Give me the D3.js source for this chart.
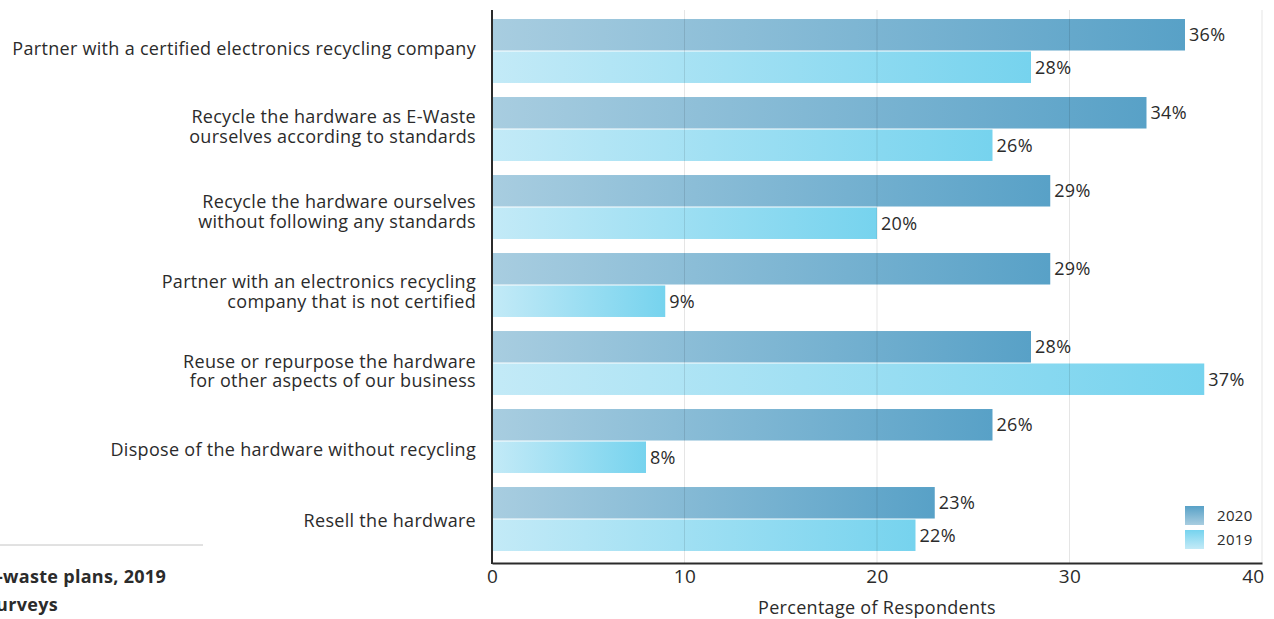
<!DOCTYPE html>
<html>
<head>
<meta charset="utf-8">
<script src="https://cdn.jsdelivr.net/npm/d3@7"></script>
<style>
  html, body { margin: 0; padding: 0; background: #fff; overflow: hidden; }
  svg { display: block; font-family: "Open Sans", Lato, sans-serif; letter-spacing: 0.3px; }
</style>
</head>
<body>
<svg id="chart" width="1274" height="619"></svg>
<script>
// Survey answers: what organisations plan to do with retired hardware
const categories = [
  ["Partner with a certified electronics recycling company"],
  ["Recycle the hardware as E-Waste", "ourselves according to standards"],
  ["Recycle the hardware ourselves", "without following any standards"],
  ["Partner with an electronics recycling", "company that is not certified"],
  ["Reuse or repurpose the hardware", "for other aspects of our business"],
  ["Dispose of the hardware without recycling"],
  ["Resell the hardware"]
];
const seriesNames = ["2020", "2019"];
const values2020 = [36, 34, 29, 29, 28, 26, 23];
const values2019 = [28, 26, 20, 9, 37, 8, 22];
const xTicks = [0, 10, 20, 30, 40];
const xTitle = "Percentage of Respondents";
const noteLines = ["E-waste plans, 2019", "surveys"];

const svg = d3.select("#chart");
const plotLeft = 492, plotRight = 1262, plotTop = 12, plotBottom = 558, axisY = 563;
const ink = "#2b2b2b";
const fs = 18;
// vertical nudge of each category label block relative to its bar pair
const labelNudge = [0, -0.5, 6.5, 8.5, 10, 10.5, 3.5];

const x = d3.scaleLinear().domain([0, 40]).range([plotLeft, plotRight]);
const y = d3.scaleBand()
  .domain(d3.range(categories.length))
  .range([plotTop, plotBottom])
  .paddingInner(0.18)
  .paddingOuter(0.09);
const ySub = d3.scaleBand().domain(seriesNames).range([0, y.bandwidth()]).paddingInner(0.03);

const colors = {
  "2020": { light: "#a8cde0", dark: "#58a1c7" },
  "2019": { light: "#c3eaf7", dark: "#76d3ee" }
};

// Gradients: horizontal for bars, vertical for legend swatches
const defs = svg.append("defs");
seriesNames.forEach(s => {
  const g = defs.append("linearGradient").attr("id", "bar" + s)
    .attr("x1", 0).attr("x2", 1).attr("y1", 0).attr("y2", 0);
  g.append("stop").attr("offset", "0%").attr("stop-color", colors[s].light);
  g.append("stop").attr("offset", "100%").attr("stop-color", colors[s].dark);
  const v = defs.append("linearGradient").attr("id", "leg" + s)
    .attr("x1", 0).attr("x2", 0).attr("y1", 0).attr("y2", 1);
  v.append("stop").attr("offset", "0%").attr("stop-color", colors[s].dark);
  v.append("stop").attr("offset", "100%").attr("stop-color", colors[s].light);
});

const rows = categories.map((c, i) => ({
  i, label: c,
  vals: [{ s: "2020", v: values2020[i] }, { s: "2019", v: values2019[i] }]
}));

// Bars
const grp = svg.append("g").selectAll("g").data(rows).join("g")
  .attr("transform", d => `translate(0,${y(d.i)})`);
grp.selectAll("rect").data(d => d.vals).join("rect")
  .attr("x", x(0))
  .attr("y", d => ySub(d.s))
  .attr("width", d => x(d.v) - x(0))
  .attr("height", ySub.bandwidth())
  .attr("fill", d => `url(#bar${d.s})`);
grp.selectAll("text.val").data(d => d.vals).join("text")
  .attr("class", "val")
  .attr("x", d => x(d.v) + 4)
  .attr("y", d => ySub(d.s) + ySub.bandwidth() / 2)
  .attr("dy", "0.35em")
  .attr("font-size", fs)
  .attr("fill", ink)
  .text(d => d.v + "%");

// Vertical gridlines over the bars
svg.append("g").selectAll("line").data(xTicks.slice(1)).join("line")
  .attr("x1", d => x(d)).attr("x2", d => x(d))
  .attr("y1", 10).attr("y2", axisY)
  .attr("stroke", "rgba(0,0,0,0.1)")
  .attr("stroke-width", 1);

// X axis
const xAxis = svg.append("g").attr("transform", `translate(0,${axisY})`)
  .call(d3.axisBottom(x).tickValues(xTicks).tickSize(0).tickPadding(7));
xAxis.select(".domain").attr("stroke", ink).attr("stroke-width", 2);
xAxis.selectAll("text").attr("font-size", 19).attr("fill", ink)
  .attr("font-family", "'Open Sans', sans-serif");
xAxis.selectAll(".tick text").filter(d => d === 40).attr("text-anchor", "end").attr("dx", 2);

// Y axis line
svg.append("line").attr("x1", plotLeft).attr("x2", plotLeft).attr("y1", 10).attr("y2", axisY + 1)
  .attr("stroke", ink).attr("stroke-width", 2);

// Category labels
const lh = 19.5;
svg.append("g").selectAll("text").data(rows).join("text")
  .attr("text-anchor", "end")
  .attr("font-size", fs)
  .attr("fill", ink)
  .attr("transform", d => `translate(476,${y(d.i) + y.bandwidth() / 2 - 2 + labelNudge[d.i]})`)
  .each(function(d) {
    const n = d.label.length;
    d3.select(this).selectAll("tspan").data(d.label).join("tspan")
      .attr("x", 0)
      .attr("y", (t, k) => (k - (n - 1) / 2) * lh)
      .attr("dy", "0.35em")
      .text(t => t);
  });

// X axis title
svg.append("text").attr("x", x(20)).attr("y", 614)
  .attr("text-anchor", "middle").attr("font-size", fs).attr("fill", ink)
  .text(xTitle);

// Legend
const leg = svg.append("g").attr("transform", "translate(1185,506)");
seriesNames.forEach((s, k) => {
  leg.append("rect").attr("x", 0).attr("y", k * 24).attr("width", 19).attr("height", 19)
    .attr("fill", `url(#leg${s})`);
  leg.append("text").attr("x", 32).attr("y", k * 24 + 9.5).attr("dy", "0.35em")
    .attr("font-size", 15).attr("fill", ink).text(s);
});

// Caption block at lower left
svg.append("line").attr("x1", 0).attr("x2", 203).attr("y1", 545).attr("y2", 545)
  .attr("stroke", "#c4c4c4").attr("stroke-width", 1);
svg.append("g").selectAll("text").data(noteLines).join("text")
  .attr("x", (d, k) => k === 0 ? 166 : 58)
  .attr("y", (d, k) => 583 + k * 28)
  .attr("text-anchor", "end")
  .attr("font-size", 18).attr("font-weight", "bold").attr("fill", ink)
  .text(d => d);
</script>
</body>
</html>
